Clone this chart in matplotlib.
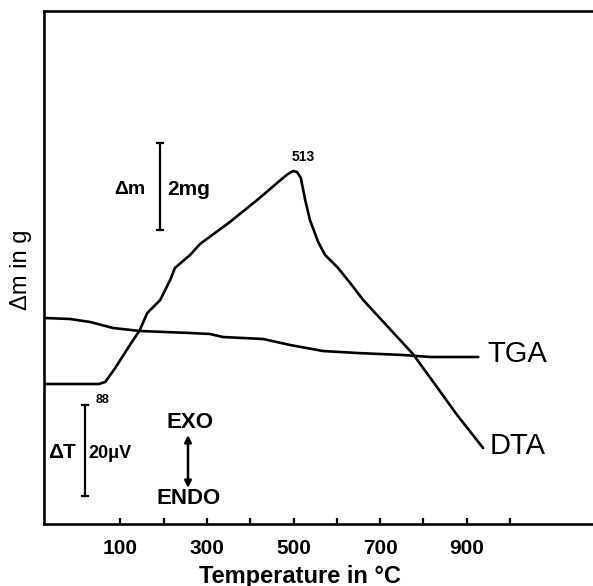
import matplotlib
matplotlib.use("Agg")
import matplotlib.pyplot as plt
from matplotlib.lines import Line2D

# ---- data (temperature in °C, signal in arbitrary units) ----
dta_temp = [-76, 50, 65, 88, 122, 145, 162, 192, 215, 226, 242, 261, 284, 353, 416,
            462, 487, 499, 508, 517, 527, 538, 557, 573, 601, 631, 661, 776, 823, 878, 938]
dta_val = [140, 140, 142, 156, 179, 194, 211, 224, 244, 256, 262, 269, 280, 302, 324,
           341, 350, 353, 352, 346, 324, 304, 282, 269, 257, 241, 224, 170, 142, 109, 76]

tga_temp = [-76, -16, 30, 83, 145, 261, 307, 337, 430, 492, 568, 647, 753, 816, 927]
tga_val = [206, 205, 202, 196, 193, 191, 190, 187, 185, 179, 173, 171, 169, 167, 167]

tick_vals = [100, 200, 300, 400, 500, 600, 700, 800, 900, 1000]
tick_labels = ["100", "", "300", "", "500", "", "700", "", "900", ""]

W, H = 593, 586
plt.rcParams['font.family'] = ['Liberation Sans', 'DejaVu Sans']

fig = plt.figure(figsize=(W / 100, H / 100), dpi=100)
ax = fig.add_axes([44 / W, (H - 524) / H, 1 - 44 / W, (524 - 11) / H])

lw = 1.9
ax.plot(dta_temp, dta_val, color='black', lw=lw, solid_joinstyle='round', solid_capstyle='round')
ax.plot(tga_temp, tga_val, color='black', lw=lw, solid_joinstyle='round', solid_capstyle='round')

ax.set_xlim(-76.5, 1192)
ax.set_ylim(0, 513)

for s in ['left', 'bottom', 'top']:
    ax.spines[s].set_linewidth(1.9)
ax.spines['right'].set_visible(False)

ax.set_xticks(tick_vals)
ax.set_xticklabels(tick_labels, fontsize=15, fontweight='bold')
ax.tick_params(axis='x', direction='in', length=4, width=1.6, pad=11)
ax.set_yticks([])

def P(x, y):
    return (x / W, 1 - y / H)

def ftext(x, y, s, **kw):
    fig.text(*P(x, y), s, ha='center', va='center', color='black', **kw)

# axis labels
ftext(300, 576, "Temperature in °C", fontsize=17, fontweight='bold')
ftext(21, 270, "Δm in g", fontsize=17, rotation=90)

# curve labels
ftext(517, 354, "TGA", fontsize=21)
ftext(518, 446, "DTA", fontsize=21)

# annotations
ftext(303, 157, "513", fontsize=10, fontweight='bold')
ftext(103, 400, "88", fontsize=9, fontweight='bold')

ftext(130, 190, "Δm", fontsize=14, fontweight='bold')
ftext(189, 190, "2mg", fontsize=15, fontweight='bold')
ftext(62, 453, "ΔT", fontsize=15, fontweight='bold')
ftext(110, 453, "20μV", fontsize=13, fontweight='bold')
ftext(190, 423, "EXO", fontsize=16, fontweight='bold')
ftext(189, 498, "ENDO", fontsize=16, fontweight='bold')

# scale bars
for (bx, y0, y1) in [(160, 143, 230), (85, 405, 496)]:
    fig.add_artist(Line2D([bx / W, bx / W], [1 - y0 / H, 1 - y1 / H], color='black', lw=1.6,
                          transform=fig.transFigure))
    for yy in (y0, y1):
        fig.add_artist(Line2D([(bx - 3) / W, (bx + 3) / W], [1 - yy / H, 1 - yy / H],
                              color='black', lw=1.6, transform=fig.transFigure))

# EXO/ENDO arrow
ax.annotate("", xy=P(188, 435), xytext=P(188, 488), xycoords='figure fraction',
            textcoords='figure fraction',
            arrowprops=dict(arrowstyle='<|-|>', lw=1.8, color='black', mutation_scale=10,
                            shrinkA=0, shrinkB=0))

fig.savefig("out.png", dpi=100)
